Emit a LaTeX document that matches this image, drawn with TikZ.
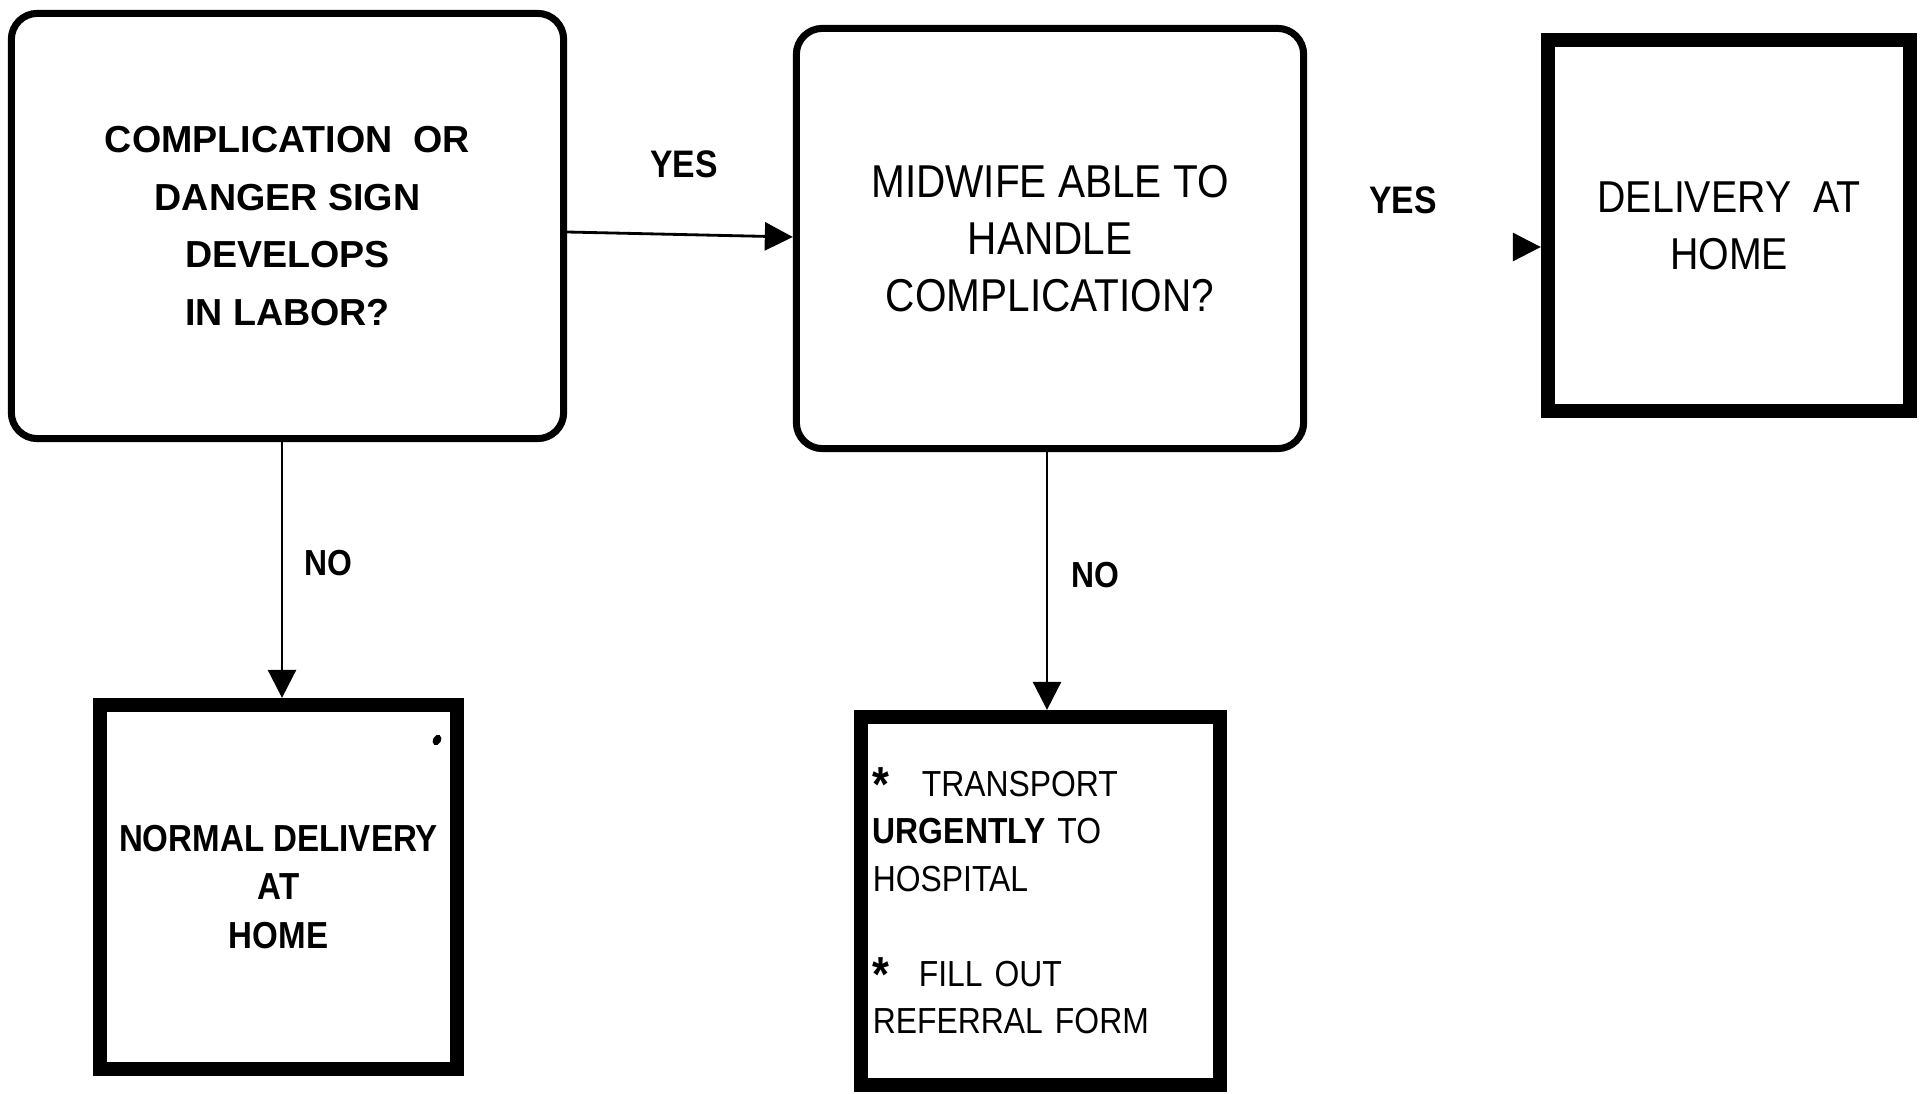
\documentclass[tikz,border=0pt]{standalone}
\usepackage{fontspec}
\setmainfont{Liberation Sans}[FakeStretch=0.88]
\newfontfamily\plainwide{Liberation Sans}
\usetikzlibrary{arrows.meta}
\newcommand{\bulletstar}{\raisebox{-1.6pt}{\fontsize{14}{13.5}\selectfont\bfseries *}}
\begin{document}
\begin{tikzpicture}[x=0.01cm, y=-0.01cm,
  question/.style={draw, line width=2pt, rounded corners=0.26cm, align=center, inner sep=0pt},
  result/.style={draw, line width=4pt, inner sep=0pt},
  link/.style={line width=0.8pt, -{Triangle[length=0.28cm, width=0.28cm]}},
  answer/.style={inner sep=0pt, font=\bfseries\fontsize{10.9}{13}\selectfont}]
\fill[white] (0,0) rectangle (1921,1094);
\useasboundingbox (0,0) rectangle (1921,1094);

% decision boxes
\node[question, minimum width=5.52cm, minimum height=4.25cm,
      font=\plainwide\bfseries\fontsize{10.7}{16.4}\selectfont] (start) at (287.5,226)
  {COMPLICATION\ \ OR\\DANGER SIGN\\DEVELOPS\\IN LABOR?};
\node[question, minimum width=5.07cm, minimum height=4.20cm,
      font=\fontsize{13.1}{16.2}\selectfont] (midwife) at (1050,238.5)
  {MIDWIFE ABLE TO\\HANDLE\\COMPLICATION?};

% outcome boxes
\node[result, minimum width=3.62cm, minimum height=3.71cm, align=center,
      font=\fontsize{12.7}{16.2}\selectfont] (home) at (1729,225.5)
  {DELIVERY\ \ AT\\HOME};
\node[result, minimum width=3.57cm, minimum height=3.64cm, align=center,
      font=\bfseries\fontsize{10.7}{13.9}\selectfont] (normal) at (278.5,887)
  {NORMAL DELIVERY\\AT\\HOME};
\node[result, minimum width=3.59cm, minimum height=3.68cm, text width=3.35cm, align=left,
      font=\fontsize{10.3}{13.5}\selectfont] (refer) at (1040.5,901)
  {\bulletstar\hspace{0.32cm}TRANSPORT\\
   \textbf{URGENTLY} TO\\
   HOSPITAL\\[13.5pt]
   \bulletstar\hspace{0.29cm}FILL OUT\\
   REFERRAL FORM};

% speck inside the normal-delivery box
\fill (437,740) ellipse [x radius=0.04cm, y radius=0.055cm, rotate=-30];

% answer labels
\node[answer] (yes1) at (684,164) {YES};
\node[answer] (yes2) at (1403,200) {YES};
\node[answer, font=\bfseries\fontsize{10.3}{12}\selectfont] (no1) at (328,563) {NO};
\node[answer, font=\bfseries\fontsize{10.3}{12}\selectfont] (no2) at (1095,575) {NO};

% connectors
\coordinate (a1s) at (0,232);
\coordinate (a1e) at (0,237);
\draw[link] (a1s -| start.east) -- (a1e -| midwife.west);

\coordinate (y2) at (1513,247);
\draw[link] (y2) -- (y2 -| home.west);

\coordinate (n1) at (282,0);
\draw[link] (n1 |- start.south) -- (n1 |- normal.north);

\coordinate (n2) at (1047,0);
\draw[link] (n2 |- midwife.south) -- (n2 |- refer.north);
\end{tikzpicture}
\end{document}
